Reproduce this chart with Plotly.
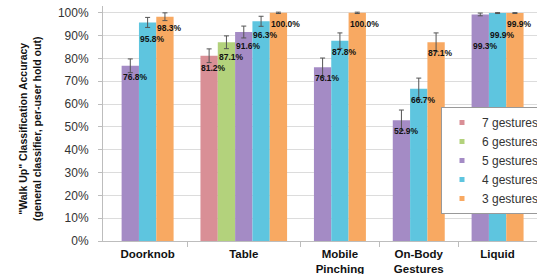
import plotly.graph_objects as go

# ---- data ----
categories = ["Doorknob", "Table", "Mobile<br>Pinching", "On-Body<br>Gestures", "Liquid"]
series_names = ["7 gestures", "6 gestures", "5 gestures", "4 gestures", "3 gestures"]
g7 = [None, 81.2, None, None, None]
g6 = [None, 87.1, None, None, None]
g5 = [76.8, 91.6, 76.1, 52.9, 99.3]
g4 = [95.8, 96.3, 87.8, 66.7, 99.9]
g3 = [98.3, 100.0, 100.0, 87.1, 99.9]
e7 = [None, 3.0, None, None, None]
e6 = [None, 2.8, None, None, None]
e5 = [3.0, 2.6, 4.1, 4.5, 0.6]
e4 = [2.2, 2.2, 3.4, 4.7, 0.2]
e3 = [1.7, 0.3, 0.3, 4.1, 0.2]
values = [g7, g6, g5, g4, g3]
errors = [e7, e6, e5, e4, e3]
yticks = list(range(0, 101, 10))

# ---- styles / layout ----
colors = ["#d98f96", "#b3d27c", "#a48bc5", "#5ec5df", "#f8a962"]
W, H = 537, 274
M = dict(l=103, r=0, t=6, b=33, autoexpand=False)
PW, PH = W - M["l"] - M["r"], H - M["t"] - M["b"]
Y_MAX = 103
bar_w = 1.0
gap = 1.55
pad = 0.3
px_per_y = PH / Y_MAX
label_drop = 11 / px_per_y      # label centre below bar top
label_step = 11 / px_per_y      # minimum spacing between labels in one group

counts = [sum(1 for v in values if v[i] is not None) for i in range(len(categories))]
lefts, x0 = [], pad
for n in counts:
    lefts.append(x0)
    x0 += n * bar_w + gap
x_end = x0
centers = [l + (n * bar_w + gap) / 2 for l, n in zip(lefts, counts)]
bounds = lefts[1:]

def bar_x(s, i):
    slot = sum(1 for k in range(s) if values[k][i] is not None)
    return lefts[i] + gap / 2 + (slot + 0.5) * bar_w

fig = go.Figure()
for s, (name, vals, errs, col) in enumerate(zip(series_names, values, errors, colors)):
    idx = [i for i, v in enumerate(vals) if v is not None]
    fig.add_trace(go.Bar(
        x=[bar_x(s, i) for i in idx], y=[vals[i] for i in idx], width=bar_w,
        marker=dict(color=col, line=dict(width=0)),
        error_y=dict(type="data", array=[errs[i] for i in idx], color="#555",
                     thickness=1, width=2.5),
        showlegend=False, name=name))
    fig.add_trace(go.Scatter(
        x=[None], y=[None], mode="markers", name=name,
        marker=dict(symbol="square", size=5, color=col)))

# value labels (staggered from right to left within each group)
annotations = []
for i in range(len(categories)):
    prev = None
    for s in reversed(range(len(values))):
        v = values[s][i]
        if v is None:
            continue
        ly = v - label_drop
        if prev is not None:
            ly = min(ly, prev - label_step)
        prev = ly
        annotations.append(dict(
            x=bar_x(s, i) - bar_w / 2, y=ly, xref="x", yref="y", text=f"{v:.1f}%",
            showarrow=False, xanchor="left", yanchor="middle", xshift=-1,
            font=dict(family="Liberation Sans", size=8.5, color="#111", weight="bold")))

annotations.append(dict(
    text='"Walk Up" Classification Accuracy<br>(general classifier, per-user hold out)',
    xref="paper", yref="paper", x=(30 - M["l"]) / PW,
    y=(H - M["b"] - 129) / PH, textangle=-90, showarrow=False,
    xanchor="center", yanchor="middle",
    font=dict(family="Liberation Sans", size=10.5, color="#111", weight="bold")))

fig.update_layout(
    width=W, height=H, margin=M,
    paper_bgcolor="white", plot_bgcolor="white",
    barmode="overlay",
    font=dict(family="Liberation Sans", size=12, color="#333"),
    annotations=annotations,
    legend=dict(xref="paper", yref="paper", x=(441 - M["l"]) / PW,
                y=(H - M["b"] - 107) / PH,
                xanchor="left", yanchor="top",
                bgcolor="white", bordercolor="#999", borderwidth=1,
                font=dict(size=12, color="#333"), itemwidth=30, tracegroupgap=0),
)
fig.update_xaxes(
    range=[0, x_end], tickmode="array", tickvals=centers, ticktext=categories,
    tickfont=dict(size=11.5, color="#111", weight="bold"),
    ticks="", showgrid=False, showline=True, linecolor="#bdbdbd", linewidth=1,
    zeroline=False, ticklabelstandoff=2, automargin=False,
    minor=dict(tickmode="array", tickvals=bounds, ticks="outside", ticklen=5,
               tickcolor="#bdbdbd", showgrid=False),
)
fig.update_yaxes(
    range=[0, Y_MAX], tickmode="array", tickvals=yticks,
    ticktext=[f"{t}%" for t in yticks],
    tickfont=dict(size=12, color="#333"),
    showgrid=True, gridcolor="#dcdcdc", gridwidth=1,
    showline=True, linecolor="#bdbdbd", linewidth=1,
    ticks="outside", ticklen=4, tickcolor="#bdbdbd", ticklabelstandoff=7,
    zeroline=False, automargin=False,
)

fig.write_html("out.html", config={"displayModeBar": False},
               post_script="document.body.style.margin='0';")
